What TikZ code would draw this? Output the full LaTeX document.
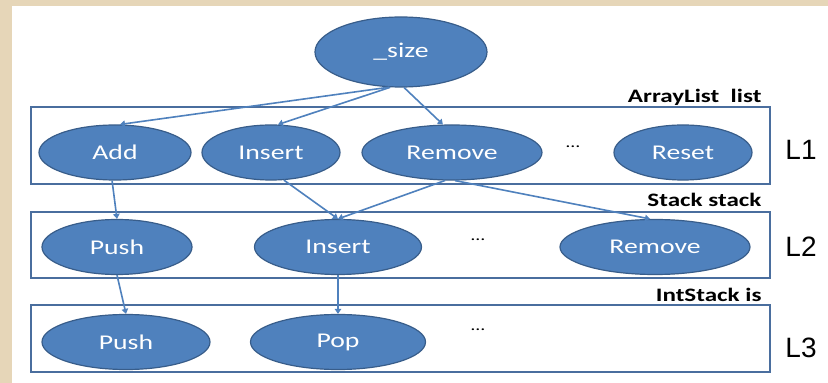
\documentclass[tikz,border=0pt]{standalone}
\usepackage{fontspec}
\setmainfont{Carlito}
\newfontfamily\slidefont{Carlito}[FakeStretch=1.32]
\newfontfamily\levelfont{Liberation Sans}
\usetikzlibrary{shapes.geometric,arrows.meta,positioning}
\definecolor{ovalblue}{HTML}{4F81BD}
\definecolor{ovalrim}{HTML}{385D8A}
\definecolor{boxrim}{HTML}{4A6E9E}
\definecolor{paper}{HTML}{E6D6B8}

\begin{document}
\begin{tikzpicture}
  [x=1pt,y=1pt,
   method/.style={ellipse,fill=ovalblue,draw=ovalrim,line width=1.2pt,text=white,
     inner sep=0pt,minimum height=55pt,font=\slidefont\fontsize{21}{25}\selectfont},
   layer/.style={draw=boxrim,line width=1.8pt},
   owner/.style={anchor=base east,font=\slidefont\bfseries\fontsize{19}{23}\selectfont},
   level/.style={font=\levelfont\fontsize{28}{32}\selectfont},
   dots/.style={font=\slidefont\fontsize{15}{17}\selectfont},
   link/.style={draw=ovalblue,line width=1.6pt,-{Triangle[length=5pt,width=6.5pt]}}]
  \useasboundingbox (0,0) rectangle (828,383);
  \fill[paper] (0,0) rectangle (828,383);
  \fill[white] (12,0) rectangle (828,377);

  % the three layers
  \draw[layer] (31,276) rectangle (770,199);
  \draw[layer] (31,171) rectangle (770,105);
  \draw[layer] (31,78) rectangle (770,11);

  \node[owner] (own1) at (765,280) {ArrayList\ \ list};
  \node[owner] (own2) at (765,176) {Stack stack};
  \node[owner] (own3) at (765,81) {IntStack is};

  \node[level] (lv1) at (801,233) {L1};
  \node[level] (lv2) at (801,136) {L2};
  \node[level] (lv3) at (801,35) {L3};

  \node[method,minimum width=172pt,minimum height=70pt] (size) at (401,331) {\_size};

  \node[method,minimum width=152pt] (add) at (115,230.5) {Add};
  \node[method,minimum width=138pt] (ins1) at (271,230.5) {Insert};
  \node[method,minimum width=180pt] (rem1) at (452,230.5) {Remove};
  \node[dots] (dots1) at (573,236) {…};
  \node[method,minimum width=138pt] (reset) at (683,230.5) {Reset};

  \node[method,minimum width=150pt] (push2) at (117,136) {Push};
  \node[method,minimum width=167pt] (ins2) at (338,136) {Insert};
  \node[dots] (dots2) at (478,143) {…};
  \node[method,minimum width=190pt] (rem2) at (655,136) {Remove};

  \node[method,minimum width=168pt] (push3) at (126,41) {Push};
  \node[method,minimum width=175pt] (pop3) at (338,41) {Pop};
  \node[dots] (dots3) at (478,53) {…};

  \draw[link] (size.251) -- (add.80);
  \draw[link] (size.253) -- (ins1.76);
  \draw[link] (size.275) -- (rem1.108);
  \draw[link] (add.264) -- (push2.north);
  \draw[link] (ins1.295) -- (ins2.north);
  \draw[link] (rem1.256) -- (ins2.north);
  \draw[link] (rem1.276) -- (rem2.100);
  \draw[link] (push2.south) -- (push3.north);
  \draw[link] (ins2.south) -- (pop3.north);
\end{tikzpicture}
\end{document}
